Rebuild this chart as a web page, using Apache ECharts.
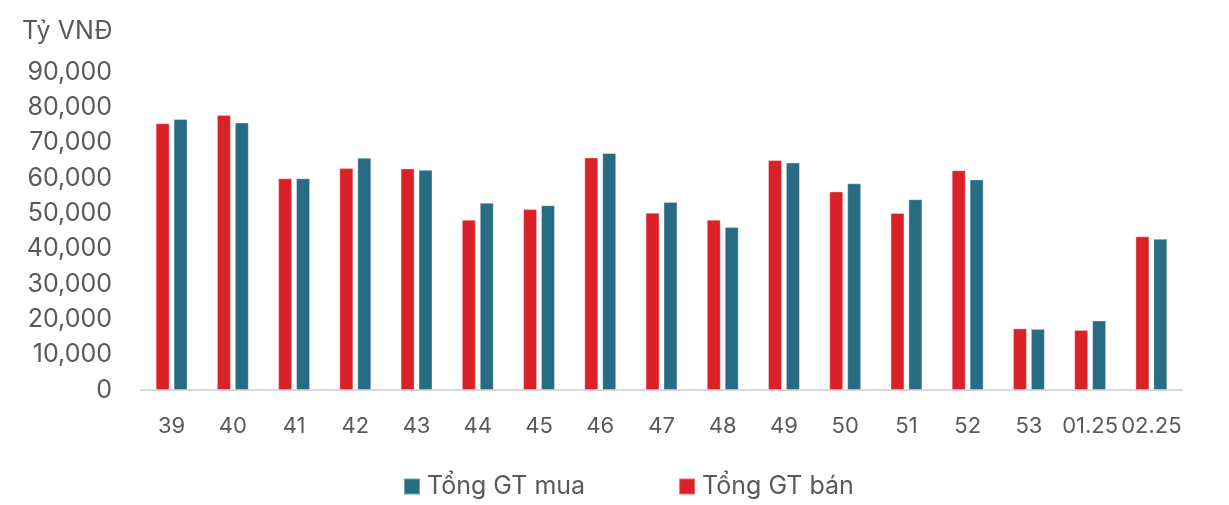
<!DOCTYPE html>
<html>
<head>
<meta charset="utf-8">
<script src="https://cdn.jsdelivr.net/npm/echarts@6/dist/echarts.min.js"></script>
<style>
  html, body { margin: 0; padding: 0; background: #fff; }
  #chart { width: 1229px; height: 505px; }
</style>
</head>
<body>
<div id="chart"></div>
<script>
// Weekly totals of buy / sell value (billion VND)
const weeks = ['39', '40', '41', '42', '43', '44', '45', '46', '47', '48', '49', '50', '51', '52', '53', '01.25', '02.25'];
const sellValues = [75500, 77800, 59900, 62800, 62700, 48200, 51200, 65800, 50200, 48200, 65100, 56200, 50100, 62200, 17450, 17000, 43500];
const buyValues  = [76700, 75700, 59900, 65700, 62300, 53000, 52300, 67100, 53200, 46100, 64400, 58500, 54000, 59600, 17300, 19700, 42800];
const yTicks = { min: 0, max: 90000, step: 10000 };

const FONT = 'Inter, "Noto Sans", sans-serif';
const TEXT = '#595959';
const RED = '#DA2128';
const BLUE = '#286C84';

const chart = echarts.init(document.getElementById('chart'), null, { renderer: 'canvas' });
chart.setOption({
  animation: false,
  textStyle: { fontFamily: FONT },
  title: {
    text: 'Tỷ VNĐ',
    left: 17,
    top: 14,
    textStyle: { fontFamily: FONT, fontSize: 25, fontWeight: 'normal', color: TEXT }
  },
  grid: { left: 141, right: 47, top: 72, bottom: 115, containLabel: false },
  legend: {
    data: ['Tổng GT mua', 'Tổng GT bán'],
    left: 398,
    top: 469,
    itemWidth: 16,
    itemHeight: 16,
    itemGap: 93,
    icon: 'rect',
    textStyle: { fontFamily: FONT, fontSize: 25, color: TEXT, padding: [0, 0, 0, 2] }
  },
  xAxis: {
    type: 'category',
    data: weeks,
    axisLine: { lineStyle: { color: '#D9D9D9', width: 2 } },
    axisTick: { show: false },
    axisLabel: { interval: 0, color: TEXT, fontSize: 22, fontFamily: FONT, margin: 25 }
  },
  yAxis: {
    type: 'value',
    min: yTicks.min,
    max: yTicks.max,
    interval: yTicks.step,
    splitLine: { show: false },
    axisLine: { show: false },
    axisTick: { show: false },
    axisLabel: {
      color: TEXT, fontSize: 25, fontFamily: FONT, margin: 29,
      formatter: v => v.toLocaleString('en-US')
    }
  },
  series: [
    {
      name: 'Tổng GT bán',
      type: 'bar',
      data: sellValues,
      barWidth: 14,
      barGap: '28%',
      itemStyle: { color: RED, borderColor: 'rgba(255,255,255,0.35)', borderWidth: 1 }
    },
    {
      name: 'Tổng GT mua',
      type: 'bar',
      data: buyValues,
      barWidth: 14,
      barGap: '28%',
      itemStyle: { color: BLUE, borderColor: 'rgba(255,255,255,0.35)', borderWidth: 1 }
    }
  ]
});
</script>
</body>
</html>
